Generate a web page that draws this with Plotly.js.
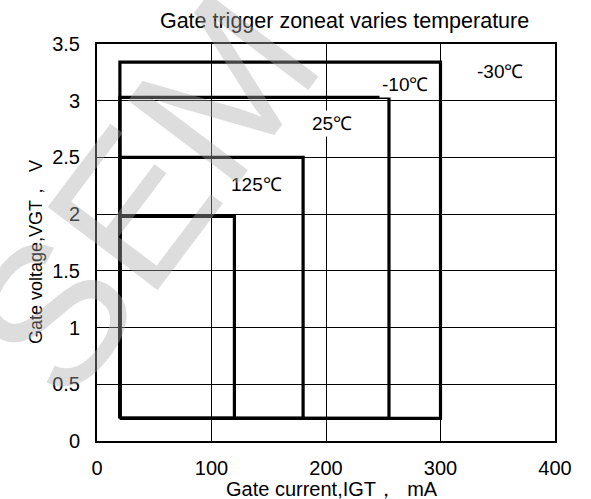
<!DOCTYPE html>
<html>
<head>
<meta charset="utf-8">
<script src="https://cdn.plot.ly/plotly-3.0.1.min.js"></script>
<style>html,body{margin:0;padding:0;background:#fff;}</style>
</head>
<body>
<div id="chart" style="width:591px;height:499px;"></div>
<script>
// Gate trigger zones (rectangles): x from IGT min to IGT max, y from VGT min to VGT max
const temperatures = ["125℃", "25℃", "-10℃", "-30℃"];
const igtMin = [20, 20, 20, 20];
const igtMax = [120, 180, 255, 300];
const vgtMin = [0.2, 0.2, 0.2, 0.2];
const vgtMax = [1.98, 2.5, 3.03, 3.34];
// label positions (data units)
const labelX = [139, 205, 269, 352];
const labelY = [2.26, 2.8, 3.14, 3.26];

const xTicks = [0, 100, 200, 300, 400];
const yTicks = [0, 0.5, 1, 1.5, 2, 2.5, 3, 3.5];

const traces = temperatures.map((t, i) => ({
  type: 'scatter', mode: 'lines', name: t,
  x: [igtMin[i], igtMax[i], igtMax[i], igtMin[i], igtMin[i]],
  y: [vgtMin[i], vgtMin[i], vgtMax[i], vgtMax[i], vgtMin[i]],
  line: {color: '#000', width: 3.2},
  hoverinfo: 'skip', showlegend: false
}));

const FAM = 'Liberation Sans, Arial, sans-serif';
const font = {family: FAM, color: '#000', size: 18};

const annotations = temperatures.map((t, i) => ({
  x: labelX[i], y: labelY[i], xref: 'x', yref: 'y', text: t,
  showarrow: false, bgcolor: '#fff', borderpad: 2,
  font: {family: FAM, size: 19, color: '#000'}
}));
// axis titles
annotations.push({
  xref: 'paper', yref: 'paper', x: 0.513, y: -0.121, xanchor: 'center', yanchor: 'middle',
  text: 'Gate current,IGT，  mA', showarrow: false,
  font: {family: FAM, size: 20, color: '#000'}
});
annotations.push({
  xref: 'paper', yref: 'paper', x: -0.133, y: 0.476, xanchor: 'center', yanchor: 'middle',
  text: 'Gate voltage,VGT，  V', showarrow: false, textangle: -90,
  font: {family: FAM, size: 18, color: '#000'}
});
// watermark
annotations.push({
  xref: 'paper', yref: 'paper', x: 0.1, y: 0.62, xanchor: 'center', yanchor: 'middle',
  text: 'SEM', showarrow: false, textangle: -53,
  font: {family: FAM, size: 200, color: 'rgba(170,170,170,0.4)'}
});

const layout = {
  width: 591, height: 499,
  margin: {l: 97, r: 36, t: 44, b: 58},
  paper_bgcolor: '#fff', plot_bgcolor: '#fff',
  font: font,
  title: {text: 'Gate trigger zoneat varies temperature', x: 0.583, xanchor: 'center', y: 0.958, yanchor: 'middle',
          font: {family: FAM, size: 21.5, color: '#000'}},
  xaxis: {
    range: [0, 400], tickvals: xTicks, ticktext: xTicks.map(String),
    tickfont: {family: FAM, size: 20, color: '#000'},
    showgrid: true, gridcolor: '#000', gridwidth: 1, zeroline: false,
    showline: true, mirror: true, linecolor: '#000', linewidth: 2,
    ticks: '', ticklabelstandoff: 8,
    fixedrange: true
  },
  yaxis: {
    range: [0, 3.5], tickvals: yTicks, ticktext: yTicks.map(String),
    tickfont: {family: FAM, size: 20, color: '#000'},
    showgrid: true, gridcolor: '#000', gridwidth: 1, zeroline: false,
    showline: true, mirror: true, linecolor: '#000', linewidth: 2,
    ticks: '', ticklabelstandoff: 11,
    fixedrange: true
  },
  annotations: annotations,
  showlegend: false
};

Plotly.newPlot('chart', traces, layout, {displayModeBar: false, staticPlot: true});
</script>
</body>
</html>
